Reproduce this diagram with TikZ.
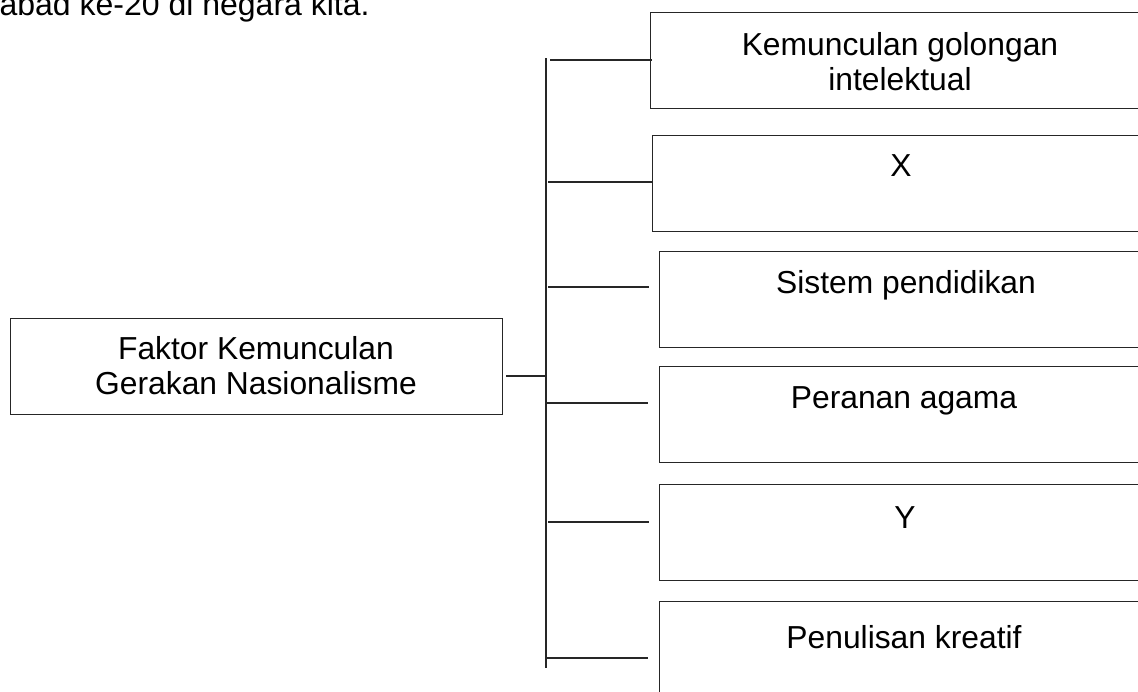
\documentclass[tikz,border=0pt]{standalone}
\usepackage{fontspec}
\setmainfont{Liberation Sans}
\begin{document}
\begin{tikzpicture}[x=1pt,y=-1pt,line width=1.2pt,
  box/.style={draw=black!85,rectangle,anchor=north west,inner sep=0pt},
  lbl/.style={font=\fontsize{31.8}{35}\selectfont,align=center,inner sep=0pt,anchor=base},
  conn/.style={draw=black!85,line width=1.2pt}]
\useasboundingbox (0,0) rectangle (1138,691);
\clip (0,0) rectangle (1138,691);
% question text
\node[font=\fontsize{32}{36}\selectfont,inner sep=0pt,anchor=base west] (q) at (-1,15) {abad ke-20 di negara kita.};
% main box
\node[box,minimum width=492pt,minimum height=96pt] (main) at (10,318) {};
\node[lbl] (maint) at (256,394) {Faktor Kemunculan\\Gerakan Nasionalisme};
% right boxes (open to the right edge)
\node[box,minimum width=500pt,minimum height=96pt] (b1) at (650,12) {};
\node[box,minimum width=498pt,minimum height=96pt] (b2) at (652,135) {};
\node[box,minimum width=491pt,minimum height=96pt] (b3) at (659,251) {};
\node[box,minimum width=491pt,minimum height=96pt] (b4) at (659,366) {};
\node[box,minimum width=491pt,minimum height=96pt] (b5) at (659,484) {};
\node[box,minimum width=491pt,minimum height=110pt] (b6) at (659,601) {};
\node[lbl] (t1) at (900,90) {Kemunculan golongan\\intelektual};
\node[lbl] (t2) at (901,176) {X};
\node[lbl] (t3) at (906,293) {Sistem pendidikan};
\node[lbl] (t4) at (904,408) {Peranan agama};
\node[lbl] (t5) at (905,528) {Y};
\node[lbl] (t6) at (904,648) {Penulisan kreatif};
% spine
\coordinate (spt) at (546,58);
\coordinate (spb) at (546,668);
\draw[conn] (spt) -- (spb);
% main connector
\coordinate (m0) at (506,376);
\coordinate (m1) at (546,376);
\draw[conn] (m0) -- (m1);
% branch connectors
\coordinate (s1) at (550,60);  \coordinate (e1) at (652,60);
\coordinate (s2) at (548,182); \coordinate (e2) at (652,182);
\coordinate (s3) at (548,287); \coordinate (e3) at (649,287);
\coordinate (s4) at (547,403); \coordinate (e4) at (648,403);
\coordinate (s5) at (548,522); \coordinate (e5) at (649,522);
\coordinate (s6) at (546,658); \coordinate (e6) at (648,658);
\draw[conn] (s1) -- (e1);
\draw[conn] (s2) -- (e2);
\draw[conn] (s3) -- (e3);
\draw[conn] (s4) -- (e4);
\draw[conn] (s5) -- (e5);
\draw[conn] (s6) -- (e6);
\end{tikzpicture}
\end{document}
